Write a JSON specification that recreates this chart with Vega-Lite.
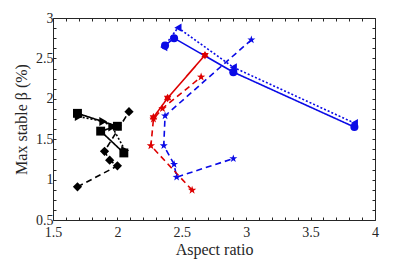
{
  "$schema": "https://vega.github.io/schema/vega-lite/v6.json",
  "width": 322,
  "height": 202,
  "autosize": {"type": "none"},
  "padding": {"left": 53, "top": 18, "right": 40, "bottom": 40},
  "config": {
    "view": {"stroke": "#262626", "strokeWidth": 1},
    "font": "Liberation Serif",
    "axis": {"labelFont": "Liberation Serif", "titleFont": "Liberation Serif", "labelFontSize": 14, "titleFontSize": 16, "titleFontWeight": "normal", "labelColor": "#262626", "titleColor": "#262626", "domain": false, "grid": false, "tickColor": "#262626", "tickSize": -3, "tickWidth": 1, "format": "~g"}
  },
  "data": {"values": [
    {"s": "bc", "o": 1, "x": 2.37, "y": 2.66},
    {"s": "bc", "o": 2, "x": 2.44, "y": 2.75},
    {"s": "bc", "o": 3, "x": 2.90, "y": 2.33},
    {"s": "bc", "o": 4, "x": 3.84, "y": 1.65},
    {"s": "bt", "o": 1, "x": 2.36, "y": 2.64},
    {"s": "bt", "o": 2, "x": 2.47, "y": 2.88},
    {"s": "bt", "o": 3, "x": 2.90, "y": 2.39},
    {"s": "bt", "o": 4, "x": 3.84, "y": 1.70},
    {"s": "bs", "o": 1, "x": 3.04, "y": 2.73},
    {"s": "bs", "o": 2, "x": 2.37, "y": 1.79},
    {"s": "bs", "o": 3, "x": 2.36, "y": 1.42},
    {"s": "bs", "o": 4, "x": 2.44, "y": 1.19},
    {"s": "bs", "o": 5, "x": 2.46, "y": 1.03},
    {"s": "bs", "o": 6, "x": 2.90, "y": 1.26},
    {"s": "rh", "o": 1, "x": 2.28, "y": 1.77},
    {"s": "rh", "o": 2, "x": 2.39, "y": 2.01},
    {"s": "rh", "o": 3, "x": 2.68, "y": 2.54},
    {"s": "rs", "o": 1, "x": 2.58, "y": 0.87},
    {"s": "rs", "o": 2, "x": 2.26, "y": 1.42},
    {"s": "rs", "o": 3, "x": 2.28, "y": 1.75},
    {"s": "rs", "o": 4, "x": 2.35, "y": 1.88},
    {"s": "rs", "o": 5, "x": 2.65, "y": 2.27},
    {"s": "ks", "o": 1, "x": 1.69, "y": 1.82},
    {"s": "ks", "o": 2, "x": 2.00, "y": 1.66},
    {"s": "ks", "o": 3, "x": 1.87, "y": 1.60},
    {"s": "ks", "o": 4, "x": 2.05, "y": 1.33},
    {"s": "kt", "o": 1, "x": 1.70, "y": 1.78},
    {"s": "kt", "o": 2, "x": 1.89, "y": 1.72},
    {"s": "kt", "o": 3, "x": 1.96, "y": 1.65},
    {"s": "kt", "o": 4, "x": 2.06, "y": 1.36},
    {"s": "kd", "o": 1, "x": 1.69, "y": 0.91},
    {"s": "kd", "o": 2, "x": 2.00, "y": 1.17},
    {"s": "kd", "o": 3, "x": 1.94, "y": 1.24},
    {"s": "kd", "o": 4, "x": 1.90, "y": 1.35},
    {"s": "kd", "o": 5, "x": 2.09, "y": 1.84}
  ]},
  "resolve": {"axis": {"x": "independent", "y": "independent"}},
  "layer": [
    {
      "mark": {"type": "line", "strokeWidth": 1.6},
      "encoding": {
        "x": {"field": "x", "type": "quantitative", "scale": {"domain": [1.5, 4], "nice": false, "zero": false},
          "axis": {"orient": "bottom", "title": "Aspect ratio", "values": [1.5,1.6,1.7,1.8,1.9,2,2.1,2.2,2.3,2.4,2.5,2.6,2.7,2.8,2.9,3,3.1,3.2,3.3,3.4,3.5,3.6,3.7,3.8,3.9,4],
            "labelExpr": "abs(datum.value*2 - round(datum.value*2)) < 0.01 ? datum.label : ''", "labelPadding": 8, "titlePadding": 2, "labelFlush": false}},
        "y": {"field": "y", "type": "quantitative", "scale": {"domain": [0.5, 3], "nice": false, "zero": false},
          "axis": {"orient": "left", "title": "Max stable β (%)", "values": [0.5,0.625,0.75,0.875,1,1.125,1.25,1.375,1.5,1.625,1.75,1.875,2,2.125,2.25,2.375,2.5,2.625,2.75,2.875,3],
            "labelExpr": "abs(datum.value*2 - round(datum.value*2)) < 0.01 ? datum.label : ''", "labelPadding": 3, "titlePadding": 6, "labelFlush": false}},
        "detail": {"field": "s"},
        "order": {"field": "o", "type": "quantitative"},
        "color": {"field": "s", "type": "nominal", "legend": null,
          "scale": {"domain": ["bc","bt","bs","rh","rs","ks","kt","kd"], "range": ["#0a0ae6","#0a0ae6","#0a0ae6","#dd0000","#dd0000","#000000","#000000","#000000"]}},
        "strokeDash": {"field": "s", "type": "nominal", "legend": null,
          "scale": {"domain": ["bc","bt","bs","rh","rs","ks","kt","kd"], "range": [[1,0],[2,2],[6,4],[1,0],[6,4],[1,0],[2,2],[6,4]]}}
      }
    },
    {
      "mark": {"type": "point", "filled": true, "opacity": 1},
      "encoding": {
        "x": {"field": "x", "type": "quantitative", "axis": {"orient": "top", "title": null, "labels": false, "values": [1.5,1.6,1.7,1.8,1.9,2,2.1,2.2,2.3,2.4,2.5,2.6,2.7,2.8,2.9,3,3.1,3.2,3.3,3.4,3.5,3.6,3.7,3.8,3.9,4]}},
        "y": {"field": "y", "type": "quantitative", "axis": {"orient": "right", "title": null, "labels": false, "values": [0.5,0.625,0.75,0.875,1,1.125,1.25,1.375,1.5,1.625,1.75,1.875,2,2.125,2.25,2.375,2.5,2.625,2.75,2.875,3]}},
        "color": {"field": "s", "type": "nominal", "legend": null},
        "shape": {"field": "s", "type": "nominal", "legend": null,
          "scale": {"domain": ["bc","bt","bs","rh","rs","ks","kt","kd"], "range": ["circle","triangle-left","M0,-1L0.235,-0.324L0.951,-0.309L0.38,0.124L0.588,0.809L0,0.4L-0.588,0.809L-0.38,0.124L-0.951,-0.309L-0.235,-0.324Z","M0,-1L0.289,-0.5L0.866,-0.5L0.577,0L0.866,0.5L0.289,0.5L0,1L-0.289,0.5L-0.866,0.5L-0.577,0L-0.866,-0.5L-0.289,-0.5Z","M0,-1L0.235,-0.324L0.951,-0.309L0.38,0.124L0.588,0.809L0,0.4L-0.588,0.809L-0.38,0.124L-0.951,-0.309L-0.235,-0.324Z","square","triangle-right","diamond"]}},
        "size": {"field": "s", "type": "nominal", "legend": null,
          "scale": {"domain": ["bc","bt","bs","rh","rs","ks","kt","kd"], "range": [65,85,150,210,150,75,85,95]}}
      }
    }
  ]
}
